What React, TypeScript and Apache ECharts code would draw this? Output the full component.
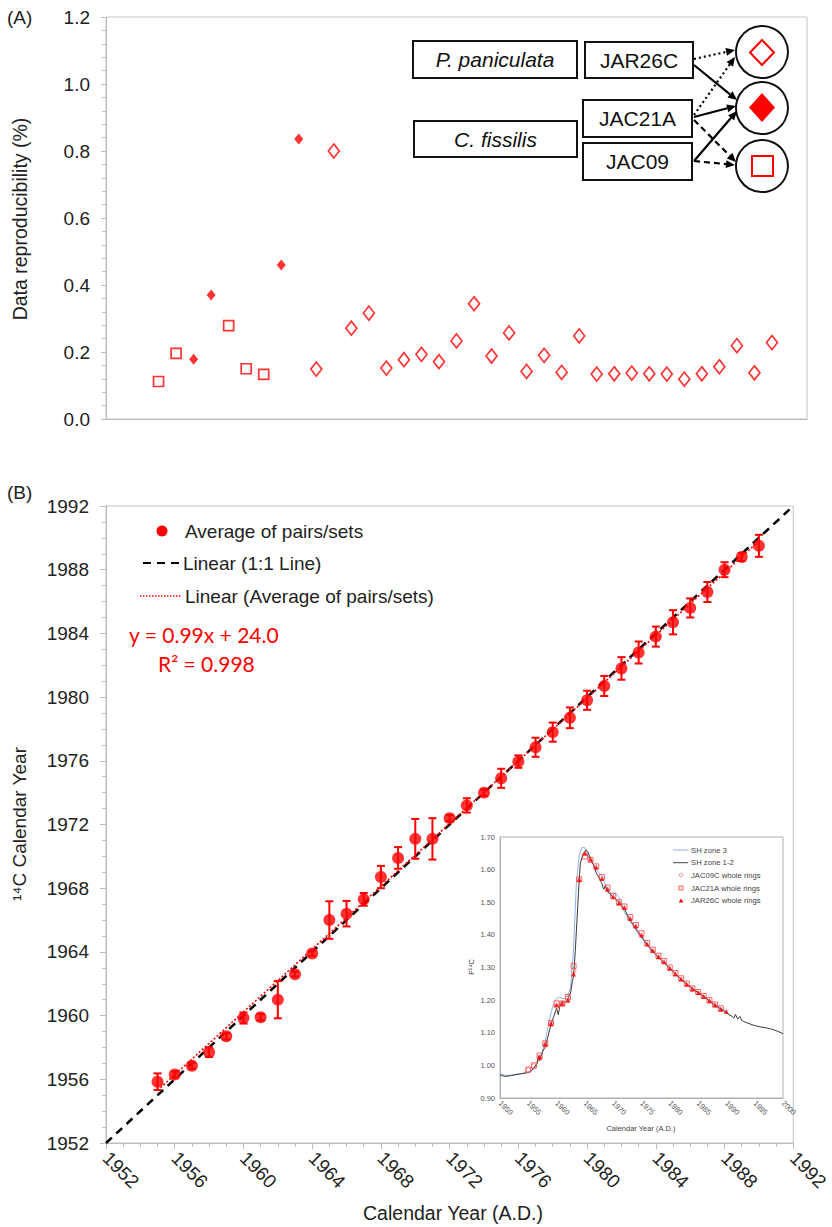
import React, { useEffect, useRef } from "react";
import * as echarts from "echarts";

// ---------- Panel A: data reproducibility ----------
const squareYearsA = [1955, 1956, 1959, 1960, 1961];
const squareValsA = [0.112, 0.196, 0.279, 0.15, 0.133];
const filledYearsA = [1957, 1958, 1962, 1963];
const filledValsA = [0.178, 0.37, 0.46, 0.836];
const openYearsA = [1964, 1965, 1966, 1967, 1968, 1969, 1970, 1971, 1972, 1973, 1974, 1975, 1976, 1977, 1978, 1979, 1980, 1981, 1982, 1983, 1984, 1985, 1986, 1987, 1988, 1989, 1990];
const openValsA = [0.149, 0.8, 0.271, 0.316, 0.152, 0.177, 0.193, 0.171, 0.233, 0.344, 0.188, 0.257, 0.142, 0.19, 0.139, 0.248, 0.134, 0.135, 0.137, 0.135, 0.134, 0.119, 0.135, 0.156, 0.219, 0.138, 0.228];
const yTicksA = [0, 0.2, 0.4, 0.6, 0.8, 1.0, 1.2];

// ---------- Panel B: 14C calendar year vs calendar year ----------
const yearsB = [1955, 1956, 1957, 1958, 1959, 1960, 1961, 1962, 1963, 1964, 1965, 1966, 1967, 1968, 1969, 1970, 1971, 1972, 1973, 1974, 1975, 1976, 1977, 1978, 1979, 1980, 1981, 1982, 1983, 1984, 1985, 1986, 1987, 1988, 1989, 1990];
const avgB = [1955.85, 1956.3, 1956.85, 1957.7, 1958.7, 1959.85, 1959.9, 1961.0, 1962.6, 1963.9, 1966.0, 1966.4, 1967.3, 1968.7, 1969.9, 1971.1, 1971.1, 1972.4, 1973.2, 1974.0, 1974.9, 1975.95, 1976.85, 1977.8, 1978.7, 1979.8, 1980.7, 1981.8, 1982.8, 1983.8, 1984.7, 1985.6, 1986.6, 1988.0, 1988.8, 1989.5];
const errB = [0.52, 0.2, 0.2, 0.3, 0.2, 0.35, 0.2, 1.17, 0.15, 0.15, 1.18, 0.8, 0.4, 0.7, 0.68, 1.25, 1.3, 0.2, 0.45, 0.2, 0.6, 0.39, 0.6, 0.6, 0.65, 0.6, 0.63, 0.71, 0.69, 0.63, 0.76, 0.6, 0.63, 0.47, 0.25, 0.69];
const oneToOneX = [1952, 1992];
const oneToOneY = [1952, 1992];
const trendX = [1955, 1990];
const trendY = [1955.3, 1989.8];

// ---------- Inset: F14C bomb curve ----------
const zone3X = [1950, 1951, 1952, 1953, 1954, 1955, 1955.5, 1956, 1956.5, 1957, 1957.5, 1958, 1958.5, 1959, 1959.5, 1960, 1960.5, 1961, 1961.5, 1962, 1962.5, 1963, 1963.5, 1964, 1964.5, 1965, 1965.5, 1966, 1966.5, 1967, 1967.5, 1968, 1968.5, 1969, 1969.5, 1970, 1970.5, 1971, 1971.5, 1972, 1973, 1974, 1975, 1976, 1977, 1978, 1979, 1980, 1981, 1982, 1983, 1984, 1985, 1986, 1987, 1988, 1989, 1990];
const zone3Y = [0.975, 0.969, 0.97, 0.973, 0.976, 0.98, 0.984, 0.99, 1.005, 1.02, 1.045, 1.075, 1.12, 1.16, 1.19, 1.205, 1.21, 1.205, 1.205, 1.215, 1.24, 1.36, 1.56, 1.645, 1.668, 1.667, 1.645, 1.63, 1.615, 1.6, 1.59, 1.58, 1.56, 1.54, 1.528, 1.525, 1.528, 1.515, 1.49, 1.47, 1.44, 1.415, 1.39, 1.368, 1.348, 1.33, 1.314, 1.298, 1.28, 1.264, 1.249, 1.236, 1.224, 1.212, 1.2, 1.188, 1.176, 1.165];
const zone12X = [1950, 1950.5, 1951, 1952, 1953, 1954, 1955, 1955.5, 1956, 1956.5, 1956.8, 1957, 1957.5, 1958, 1958.5, 1959, 1959.5, 1960, 1960.3, 1960.6, 1961, 1961.5, 1962, 1962.5, 1962.8, 1963, 1963.3, 1963.6, 1964, 1964.2, 1964.7, 1965.2, 1965.5, 1966, 1966.5, 1967, 1967.5, 1968, 1968.3, 1968.6, 1969, 1969.5, 1970, 1970.5, 1971, 1972, 1973, 1974, 1975, 1976, 1977, 1978, 1979, 1980, 1981, 1982, 1983, 1984, 1985, 1986, 1987, 1988, 1989, 1990, 1990.5, 1991, 1991.3, 1991.6, 1992, 1992.4, 1992.7, 1993, 1994, 1995, 1996, 1997, 1998, 1999, 2000];
const zone12Y = [0.971, 0.968, 0.966, 0.969, 0.972, 0.975, 0.978, 0.983, 0.993, 1.005, 1.03, 1.015, 1.04, 1.058, 1.09, 1.125, 1.15, 1.175, 1.155, 1.185, 1.195, 1.193, 1.205, 1.225, 1.26, 1.272, 1.35, 1.445, 1.57, 1.62, 1.649, 1.66, 1.655, 1.633, 1.615, 1.59, 1.575, 1.557, 1.54, 1.55, 1.532, 1.525, 1.515, 1.508, 1.5, 1.478, 1.445, 1.42, 1.395, 1.37, 1.35, 1.331, 1.315, 1.298, 1.28, 1.264, 1.249, 1.235, 1.223, 1.211, 1.197, 1.184, 1.173, 1.162, 1.155, 1.15, 1.145, 1.156, 1.142, 1.15, 1.138, 1.135, 1.128, 1.122, 1.118, 1.115, 1.111, 1.105, 1.097];
const jac09X = [1955, 1956, 1957, 1958, 1959, 1960, 1961, 1962, 1963];
const jac09Y = [0.985, 0.997, 1.022, 1.062, 1.125, 1.18, 1.188, 1.205, 1.29];
const jac21X = [1955, 1956, 1957, 1958, 1959, 1960, 1961, 1962, 1963, 1964, 1965, 1966, 1967, 1968, 1969, 1970, 1971, 1972, 1973, 1974, 1975, 1976, 1977, 1978, 1979, 1980, 1981, 1982, 1983, 1984, 1985, 1986, 1987, 1988, 1989];
const jac21Y = [0.987, 1.0, 1.03, 1.068, 1.13, 1.19, 1.19, 1.21, 1.305, 1.57, 1.64, 1.63, 1.61, 1.577, 1.545, 1.52, 1.5, 1.487, 1.455, 1.43, 1.405, 1.375, 1.355, 1.336, 1.32, 1.3, 1.283, 1.267, 1.251, 1.236, 1.225, 1.213, 1.2, 1.187, 1.175];
const jar26X = [1957, 1958, 1959, 1960, 1961, 1962, 1963, 1964, 1965, 1966, 1967, 1968, 1969, 1970, 1971, 1972, 1973, 1974, 1975, 1976, 1977, 1978, 1979, 1980, 1981, 1982, 1983, 1984, 1985, 1986, 1987, 1988, 1989, 1990];
const jar26Y = [1.025, 1.065, 1.128, 1.185, 1.19, 1.2, 1.28, 1.57, 1.65, 1.632, 1.608, 1.573, 1.54, 1.517, 1.498, 1.484, 1.45, 1.427, 1.4, 1.372, 1.352, 1.333, 1.318, 1.298, 1.28, 1.265, 1.249, 1.234, 1.223, 1.211, 1.198, 1.185, 1.172, 1.165];

const RED = "#ff0000";
const SANS = "'Liberation Sans', Arial, sans-serif";
const zip = (xs: number[], ys: number[]) => xs.map((x, i) => [x, ys[i]]);
const plain = (v: number) => String(v);

function arrow(x1: number, y1: number, x2: number, y2: number, dash: number[] | null) {
  const ang = Math.atan2(y2 - y1, x2 - x1);
  const L = 9, W = 4;
  const bx = x2 - L * Math.cos(ang), by = y2 - L * Math.sin(ang);
  const px = -Math.sin(ang) * W, py = Math.cos(ang) * W;
  return [
    { type: "line", z: 20, shape: { x1, y1, x2: bx, y2: by }, style: { stroke: "#000", lineWidth: 2.2, lineDash: dash || undefined } },
    { type: "polygon", z: 20, shape: { points: [[x2, y2], [bx + px, by + py], [bx - px, by - py]] }, style: { fill: "#000" } },
  ];
}

function box(x: number, y: number, w: number, h: number, label: string, italic: boolean) {
  return [
    { type: "rect", z: 20, shape: { x, y, width: w, height: h }, style: { fill: "#fff", stroke: "#111", lineWidth: 2 } },
    { type: "text", z: 21, x: x + w / 2, y: y + h / 2, style: { text: label, fill: "#111", font: `${italic ? "italic " : ""}21px ${SANS}`, align: "center", verticalAlign: "middle" } },
  ];
}

export default function App() {
  const ref = useRef<HTMLDivElement>(null);
  useEffect(() => {
    document.body.style.margin = "0";
    const chart = echarts.init(ref.current!, null, { renderer: "svg" });
    const errData = yearsB.map((y, i) => [y, avgB[i] - errB[i], avgB[i] + errB[i]]);
    const axisGray = "#bdbdbd";
    const tickFont = { fontFamily: SANS, fontSize: 19, color: "#222" };
    const insetFont = { fontFamily: SANS, fontSize: 7.5, color: "#555" };

    const graphics: any[] = [
      { type: "text", x: 7, y: 17, style: { text: "(A)", font: `19px ${SANS}`, fill: "#222", verticalAlign: "middle" } },
      { type: "text", x: 7, y: 492, style: { text: "(B)", font: `19px ${SANS}`, fill: "#222", verticalAlign: "middle" } },
      { type: "text", x: 20, y: 219, rotation: Math.PI / 2, style: { text: "Data reproducibility (%)", font: `19.5px ${SANS}`, fill: "#222", align: "center", verticalAlign: "middle" } },
      { type: "text", x: 19, y: 824, rotation: Math.PI / 2, style: { text: "¹⁴C Calendar Year", font: `19px ${SANS}`, fill: "#222", align: "center", verticalAlign: "middle" } },
      { type: "text", x: 453, y: 1213, style: { text: "Calendar Year (A.D.)", font: `19.5px ${SANS}`, fill: "#222", align: "center", verticalAlign: "middle" } },
      // Panel A legend diagram
      ...box(413, 41, 164, 37, "P. paniculata", true),
      ...box(414, 121, 163, 36, "C. fissilis", true),
      ...box(585, 42, 108, 36, "JAR26C", false),
      ...box(583, 100, 109, 37, "JAC21A", false),
      ...box(583, 143, 109, 37, "JAC09", false),
      { type: "circle", z: 20, shape: { cx: 762, cy: 52, r: 26 }, style: { fill: "#fff", stroke: "#111", lineWidth: 2 } },
      { type: "circle", z: 20, shape: { cx: 762, cy: 108, r: 26 }, style: { fill: "#fff", stroke: "#111", lineWidth: 2 } },
      { type: "circle", z: 20, shape: { cx: 762, cy: 166, r: 26 }, style: { fill: "#fff", stroke: "#111", lineWidth: 2 } },
      { type: "polygon", z: 21, shape: { points: [[762, 40], [774, 52.5], [762, 65], [750, 52.5]] }, style: { fill: "#fff", stroke: RED, lineWidth: 2 } },
      { type: "polygon", z: 21, shape: { points: [[762, 93], [775, 107.5], [762, 122], [749, 107.5]] }, style: { fill: RED } },
      { type: "rect", z: 21, shape: { x: 752, y: 156, width: 21, height: 20 }, style: { fill: "#fff", stroke: RED, lineWidth: 2 } },
      ...arrow(694, 59, 735, 50, [2, 3]),
      ...arrow(694, 65, 737, 100, null),
      ...arrow(694, 115, 735, 57, [2, 3]),
      ...arrow(694, 117, 736, 106, null),
      ...arrow(694, 120, 736, 162, [6, 4]),
      ...arrow(694, 161, 737, 111, null),
      ...arrow(694, 161, 735, 165, [6, 4]),
      // Panel B legend
      { type: "circle", shape: { cx: 162, cy: 531, r: 5.5 }, style: { fill: RED } },
      { type: "text", x: 185, y: 531, style: { text: "Average of pairs/sets", font: `19px ${SANS}`, fill: "#222", verticalAlign: "middle" } },
      { type: "line", shape: { x1: 143, y1: 563, x2: 181, y2: 563 }, style: { stroke: "#000", lineWidth: 2, lineDash: [8, 6] } },
      { type: "text", x: 183, y: 563, style: { text: "Linear (1:1 Line)", font: `19px ${SANS}`, fill: "#222", verticalAlign: "middle" } },
      { type: "line", shape: { x1: 140, y1: 596, x2: 181, y2: 596 }, style: { stroke: RED, lineWidth: 1.5, lineDash: [1.5, 1.5] } },
      { type: "text", x: 185, y: 596, style: { text: "Linear (Average of pairs/sets)", font: `19px ${SANS}`, fill: "#222", verticalAlign: "middle" } },
      { type: "text", x: 129, y: 634, style: { text: "y = 0.99x + 24.0", font: `21px Lato, 'Noto Sans', sans-serif`, fill: RED, verticalAlign: "middle" } },
      { type: "text", x: 158, y: 663, style: { text: "R² = 0.998", font: `21px Lato, 'Noto Sans', sans-serif`, fill: RED, verticalAlign: "middle" } },
      // Inset titles
      { type: "text", z: 30, x: 471, y: 967, rotation: Math.PI / 2, style: { text: "F¹⁴C", font: `7.5px ${SANS}`, fill: "#444", align: "center", verticalAlign: "middle" } },
      { type: "text", z: 30, x: 641, y: 1128, style: { text: "Calendar Year (A.D.)", font: `7.5px ${SANS}`, fill: "#444", align: "center", verticalAlign: "middle" } },
      // Inset legend
      { type: "line", z: 30, shape: { x1: 673, y1: 850, x2: 688, y2: 850 }, style: { stroke: "#8fb0ea", lineWidth: 1 } },
      { type: "text", z: 30, x: 691, y: 850, style: { text: "SH zone 3", font: `7.7px ${SANS}`, fill: "#444", verticalAlign: "middle" } },
      { type: "line", z: 30, shape: { x1: 673, y1: 862.7, x2: 688, y2: 862.7 }, style: { stroke: "#444", lineWidth: 1 } },
      { type: "text", z: 30, x: 691, y: 862.7, style: { text: "SH zone 1-2", font: `7.7px ${SANS}`, fill: "#444", verticalAlign: "middle" } },
      { type: "circle", z: 30, shape: { cx: 681, cy: 875, r: 1.8 }, style: { fill: "none", stroke: "#f08080", lineWidth: 0.9 } },
      { type: "text", z: 30, x: 691, y: 875, style: { text: "JAC09C whole rings", font: `7.7px ${SANS}`, fill: "#444", verticalAlign: "middle" } },
      { type: "rect", z: 30, shape: { x: 679, y: 886, width: 4, height: 4 }, style: { fill: "none", stroke: "#ff4040", lineWidth: 0.9 } },
      { type: "text", z: 30, x: 691, y: 888, style: { text: "JAC21A whole rings", font: `7.7px ${SANS}`, fill: "#444", verticalAlign: "middle" } },
      { type: "polygon", z: 30, shape: { points: [[681, 898.5], [683.3, 902.5], [678.7, 902.5]] }, style: { fill: RED } },
      { type: "text", z: 30, x: 691, y: 900.7, style: { text: "JAR26C whole rings", font: `7.7px ${SANS}`, fill: "#444", verticalAlign: "middle" } },
    ];

    chart.setOption({
      animation: false,
      backgroundColor: "#fff",
      grid: [
        { left: 106, top: 17, width: 701, height: 402, show: true, borderColor: "#c4c4c4", borderWidth: 1, backgroundColor: "transparent" },
        { left: 106, top: 506, width: 694, height: 637, show: true, borderColor: "#c4c4c4", borderWidth: 1, backgroundColor: "transparent" },
        { left: 500, top: 837, width: 283, height: 261, show: true, borderColor: "#b0b0b0", borderWidth: 1, backgroundColor: "#fff", z: 5 },
      ],
      xAxis: [
        { gridIndex: 0, type: "value", min: 1952, max: 1992, interval: 4, axisLabel: { show: false }, axisTick: { show: false }, axisLine: { lineStyle: { color: axisGray } }, splitLine: { show: false } },
        {
          gridIndex: 1, type: "value", min: 1952, max: 1992, interval: 4,
          axisLabel: { ...tickFont, rotate: -45, margin: 12, formatter: plain },
          axisTick: { length: 6, lineStyle: { color: axisGray } },
          minorTick: { show: true, splitNumber: 4, length: 4, lineStyle: { color: axisGray } },
          axisLine: { lineStyle: { color: axisGray } }, splitLine: { show: false },
        },
        {
          gridIndex: 2, type: "value", min: 1950, max: 2000, interval: 5, z: 6,
          axisLabel: { ...insetFont, rotate: -45, margin: 4, formatter: plain },
          axisTick: { show: false }, axisLine: { lineStyle: { color: "#b0b0b0" } }, splitLine: { show: false },
        },
      ],
      yAxis: [
        {
          gridIndex: 0, type: "value", min: yTicksA[0], max: yTicksA[yTicksA.length - 1], interval: 0.2,
          axisLabel: { ...tickFont, margin: 16, formatter: (v: number) => v.toFixed(1) },
          axisTick: { length: 5, lineStyle: { color: axisGray } },
          minorTick: { show: true, splitNumber: 5, length: 4, lineStyle: { color: axisGray } },
          axisLine: { show: true, lineStyle: { color: axisGray } }, splitLine: { show: false },
        },
        {
          gridIndex: 1, type: "value", min: 1952, max: 1992, interval: 4,
          axisLabel: { ...tickFont, margin: 17, formatter: plain },
          axisTick: { length: 6, lineStyle: { color: axisGray } },
          minorTick: { show: true, splitNumber: 4, length: 4, lineStyle: { color: axisGray } },
          axisLine: { show: true, lineStyle: { color: axisGray } }, splitLine: { show: false },
        },
        {
          gridIndex: 2, type: "value", min: 0.9, max: 1.7, interval: 0.1, z: 6,
          axisLabel: { ...insetFont, margin: 5, formatter: (v: number) => v.toFixed(2) },
          axisTick: { show: false }, axisLine: { show: true, lineStyle: { color: "#b0b0b0" } }, splitLine: { show: false },
        },
      ],
      series: [
        // Panel A
        { name: "JAC21A & JAC09", type: "scatter", xAxisIndex: 0, yAxisIndex: 0, symbol: "rect", symbolSize: 10, data: zip(squareYearsA, squareValsA), itemStyle: { color: "#fff", borderColor: RED, borderWidth: 1.7 } },
        { name: "All three", type: "scatter", xAxisIndex: 0, yAxisIndex: 0, symbol: "diamond", symbolSize: [9, 11], data: zip(filledYearsA, filledValsA), itemStyle: { color: RED } },
        { name: "JAR26C & JAC21A", type: "scatter", xAxisIndex: 0, yAxisIndex: 0, symbol: "diamond", symbolSize: [11, 14], data: zip(openYearsA, openValsA), itemStyle: { color: "#fff", borderColor: RED, borderWidth: 1.7 } },
        // Panel B
        { name: "Linear (1:1 Line)", type: "line", xAxisIndex: 1, yAxisIndex: 1, data: zip(oneToOneX, oneToOneY), showSymbol: false, lineStyle: { color: "#000", width: 2.5, type: [8, 6] }, z: 2 },
        { name: "Linear (Average of pairs/sets)", type: "line", xAxisIndex: 1, yAxisIndex: 1, data: zip(trendX, trendY), showSymbol: false, lineStyle: { color: RED, width: 1.6, type: [2, 2] }, z: 2 },
        {
          name: "Error", type: "custom", xAxisIndex: 1, yAxisIndex: 1, data: errData, encode: { x: 0, y: [1, 2] }, z: 3,
          renderItem: (params: any, api: any) => {
            const x = api.value(0);
            const top = api.coord([x, api.value(2)]);
            const bot = api.coord([x, api.value(1)]);
            const w = 4;
            const st = { stroke: RED, lineWidth: 2 };
            return {
              type: "group",
              children: [
                { type: "line", shape: { x1: top[0], y1: top[1], x2: bot[0], y2: bot[1] }, style: st },
                { type: "line", shape: { x1: top[0] - w, y1: top[1], x2: top[0] + w, y2: top[1] }, style: st },
                { type: "line", shape: { x1: bot[0] - w, y1: bot[1], x2: bot[0] + w, y2: bot[1] }, style: st },
              ],
            };
          },
        },
        { name: "Average of pairs/sets", type: "scatter", xAxisIndex: 1, yAxisIndex: 1, symbol: "circle", symbolSize: 12, data: zip(yearsB, avgB), itemStyle: { color: RED }, z: 4 },
        // Inset
        { name: "SH zone 3", type: "line", xAxisIndex: 2, yAxisIndex: 2, data: zip(zone3X, zone3Y), showSymbol: false, lineStyle: { color: "#8fb0ea", width: 1 }, z: 7 },
        { name: "SH zone 1-2", type: "line", xAxisIndex: 2, yAxisIndex: 2, data: zip(zone12X, zone12Y), showSymbol: false, lineStyle: { color: "#3a3a3a", width: 1 }, z: 7 },
        { name: "JAC09C whole rings", type: "scatter", xAxisIndex: 2, yAxisIndex: 2, symbol: "circle", symbolSize: 5, data: zip(jac09X, jac09Y), itemStyle: { color: "none", borderColor: "#f08080", borderWidth: 1 }, z: 8 },
        { name: "JAC21A whole rings", type: "scatter", xAxisIndex: 2, yAxisIndex: 2, symbol: "rect", symbolSize: 5, data: zip(jac21X, jac21Y), itemStyle: { color: "rgba(255,255,255,0)", borderColor: "#ff4040", borderWidth: 1 }, z: 8 },
        { name: "JAR26C whole rings", type: "scatter", xAxisIndex: 2, yAxisIndex: 2, symbol: "triangle", symbolSize: 5, data: zip(jar26X, jar26Y), itemStyle: { color: RED }, z: 9 },
      ],
      graphic: { elements: graphics },
    });
    return () => chart.dispose();
  }, []);
  return <div ref={ref} style={{ width: 832, height: 1227 }} />;
}
